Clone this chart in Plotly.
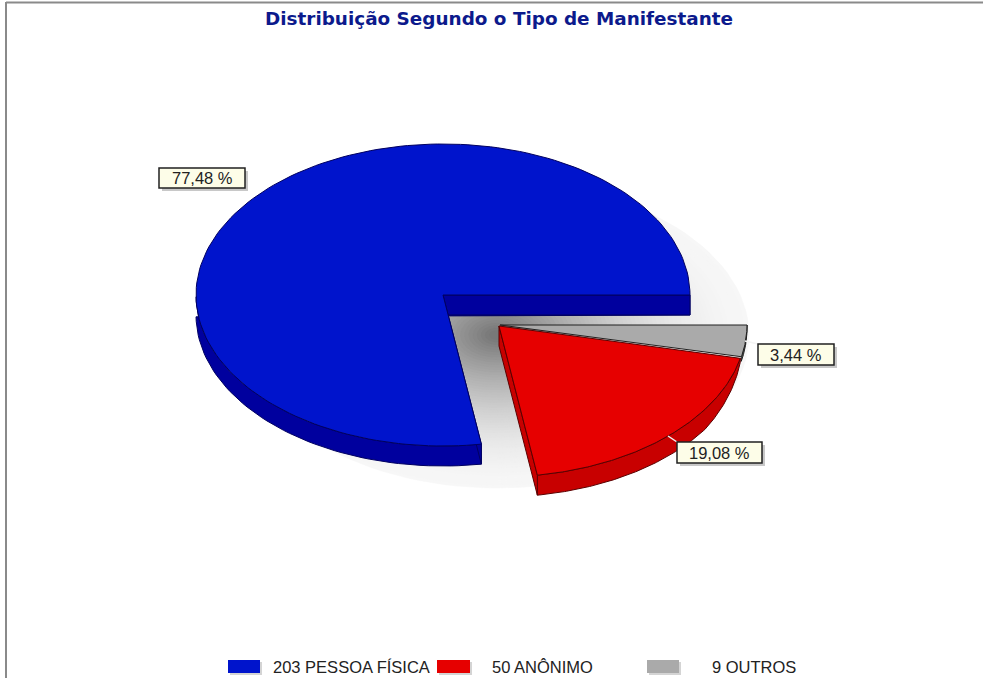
import numpy as np
import plotly.graph_objects as go

# Chart data
categories = ["PESSOA FÍSICA", "ANÔNIMO", "OUTROS"]
counts = [203, 50, 9]
title_text = "Distribuição Segundo o Tipo de Manifestante"

# Styling per slice: top face, side wall, outline
top_colors = ["#0014cc", "#e60000", "#aaaaaa"]
side_colors = ["#00009e", "#c80000", "#707070"]
edge_colors = ["#000060", "#5a0000", "#202020"]

# Pie geometry, in axis units (axes span the page one unit per pixel)
RX, RY, DEPTH = 247, 151, 20
centres = [(443, 295), (499, 326), (500, 325)]
shadow_centre = (497, 335)
shadow_radii = (252, 153)

# Label boxes in slice order: left, top, right, bottom
label_boxes = [(159, 168, 245, 188), (677, 442, 762, 463), (758, 344, 834, 365)]


def point(c, theta, dy=0.0):
    return c[0] + RX * np.cos(theta), c[1] - RY * np.sin(theta) + dy


def polygon(xs, ys, fill, line, name, width=1.0):
    return go.Scatter(
        x=xs, y=ys, mode="lines", fill="toself", fillcolor=fill, name=name,
        line=dict(color=line, width=width), hoverinfo="skip", showlegend=False,
    )


# Rim thickness by slice: full on the big one, tapering towards the right on
# the detached red one, a thin sliver on the grey one
def rim_depth(i, theta):
    if i == 0:
        return np.full_like(theta, DEPTH, dtype=float)
    if i == 1:
        return DEPTH * np.sqrt(np.clip((np.abs(np.sin(theta)) - 0.2) / 0.35, 0, 1))
    return np.full_like(theta, 4.0, dtype=float)


# Which straight cut walls are drawn: (start edge, end edge)
cut_walls = [(True, True), (True, False), (False, False)]

fig = go.Figure()

# Soft drop shadow: concentric ellipses from light rim to dark core
t_all = np.linspace(0, 2 * np.pi, 121)
for t in np.linspace(1, 0.03, 60):
    grey = int(247 - 134 * (1 - t) ** 1.8)
    fig.add_trace(polygon(
        shadow_centre[0] + t * shadow_radii[0] * np.cos(t_all),
        shadow_centre[1] - t * shadow_radii[1] * np.sin(t_all),
        f"rgb({grey},{grey},{grey})", f"rgb({grey},{grey},{grey})", "sombra", 0.5,
    ))

# Slice angles come from the counts, running counter-clockwise from east
fractions = np.array(counts) / sum(counts)
edges = np.concatenate([[0], np.cumsum(fractions)]) * 2 * np.pi


def add_slice(i):
    c = centres[i]
    start, end = edges[i], edges[i + 1]
    arc = np.linspace(start, end, 160)
    ax, ay = point(c, arc)

    # Outer rim, only where the wall faces the viewer
    rim = arc[np.sin(arc) <= 0]
    if len(rim):
        rx, ry = point(c, rim)
        rx2, ry2 = point(c, rim, rim_depth(i, rim))
        fig.add_trace(polygon(
            np.concatenate([rx, rx2[::-1], rx[:1]]),
            np.concatenate([ry, ry2[::-1], ry[:1]]),
            side_colors[i], edge_colors[i], categories[i],
        ))

    # Straight cut walls
    for theta, show in zip((start, end), cut_walls[i]):
        if not show:
            continue
        ex, ey = point(c, theta)
        fig.add_trace(polygon(
            [c[0], ex, ex, c[0], c[0]],
            [c[1], ey, ey + DEPTH, c[1] + DEPTH, c[1]],
            side_colors[i], edge_colors[i], categories[i],
        ))

    # Top face
    fig.add_trace(polygon(
        np.concatenate([[c[0]], ax, [c[0]]]),
        np.concatenate([[c[1]], ay, [c[1]]]),
        top_colors[i], edge_colors[i], categories[i],
    ))


for i in (0, 2, 1):
    add_slice(i)

shapes = [
    # Chart frame
    dict(type="line", x0=6, x1=983, y0=2.5, y1=2.5, line=dict(color="#8a8a8a", width=2)),
    dict(type="line", x0=6, x1=6, y0=2, y1=678, line=dict(color="#8a8a8a", width=2)),
    # Leader ticks
    dict(type="line", x0=668, x1=677, y0=436, y1=442, line=dict(color="#f4f4f4", width=1.5)),
    dict(type="line", x0=745, x1=758, y0=341, y1=344, line=dict(color="#f4f4f4", width=1.5)),
]
annotations = [
    dict(x=498.5, y=18, text=f"<b>{title_text}</b>", showarrow=False,
         font=dict(family="DejaVu Sans", size=18.4, color="#0c1a8c")),
]

# Percentage labels in boxes
for frac, box in zip(fractions, label_boxes):
    l, t, r, b = box
    shapes.append(dict(type="rect", x0=l + 3, x1=r + 3, y0=t + 3, y1=b + 3,
                       fillcolor="#c8c8c8", line=dict(width=0)))
    shapes.append(dict(type="rect", x0=l, x1=r, y0=t, y1=b, fillcolor="#fdfde8",
                       line=dict(color="#202020", width=1.5)))
    pct = f"{frac * 100:.2f}".replace(".", ",") + " %"
    annotations.append(dict(x=(l + r) / 2, y=(t + b) / 2, text=pct, showarrow=False,
                            font=dict(family="Liberation Sans", size=16.5, color="#222222")))

# Legend row
legend_swatches = [(228, 260), (437, 470), (647, 679)]
legend_text_x = [271, 490, 710]
for i, (cat, n) in enumerate(zip(categories, counts)):
    x0, x1 = legend_swatches[i]
    shapes.append(dict(type="rect", x0=x0 + 2, x1=x1 + 2, y0=662, y1=675,
                       fillcolor="#d4d4d4", line=dict(width=0)))
    shapes.append(dict(type="rect", x0=x0, x1=x1, y0=660, y1=673,
                       fillcolor=top_colors[i], line=dict(width=0)))
    annotations.append(dict(x=legend_text_x[i], y=667, xanchor="left", text=f"{n} {cat}",
                            showarrow=False,
                            font=dict(family="Liberation Sans", size=16.5, color="#222222")))

fig.update_layout(
    width=983, height=678, margin=dict(l=0, r=0, t=0, b=0),
    paper_bgcolor="white", plot_bgcolor="white", showlegend=False,
    xaxis=dict(range=[0, 983], visible=False, fixedrange=True),
    yaxis=dict(range=[678, 0], visible=False, fixedrange=True),
    shapes=shapes, annotations=annotations,
)

fig.write_html("out.html", config={"displayModeBar": False})
